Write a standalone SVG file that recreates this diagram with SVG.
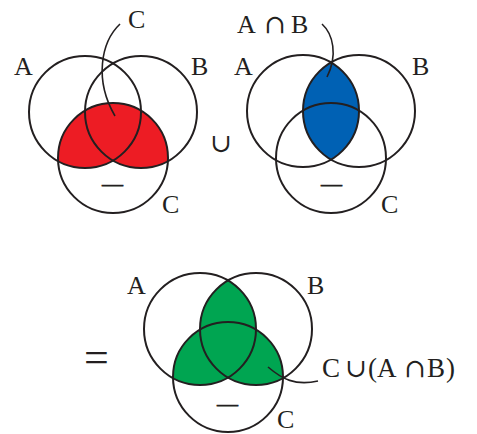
<svg xmlns="http://www.w3.org/2000/svg" width="477" height="434" viewBox="0 0 477 434">
<style>
.c{fill:none;stroke:#231f20;stroke-width:2}
.t{font-family:"Liberation Serif","DejaVu Serif",serif;font-size:26px;fill:#231f20}
.s{font-family:"DejaVu Serif",serif;font-size:26px}
.bar{font-family:"Liberation Serif","DejaVu Serif",serif;font-size:21px;fill:#231f20;stroke:#231f20;stroke-width:0.6}
.lead{fill:none;stroke:#231f20;stroke-width:1.6}
</style>
<defs>
<clipPath id="ab1"><circle cx="85" cy="112" r="56"/><circle cx="141" cy="112" r="56"/></clipPath>
<clipPath id="a2"><circle cx="303" cy="111" r="56"/></clipPath>
<clipPath id="a3"><circle cx="200" cy="329" r="56"/></clipPath>
<clipPath id="ab3"><circle cx="200" cy="329" r="56"/><circle cx="256" cy="329" r="56"/></clipPath>
</defs>
<rect width="477" height="434" fill="#fff"/>

<g id="venn1">
<circle cx="113" cy="158" r="55" fill="#ed1c24" clip-path="url(#ab1)"/>
<circle class="c" cx="85" cy="112" r="56"/>
<circle class="c" cx="141" cy="112" r="56"/>
<circle class="c" cx="113" cy="158" r="55"/>
<text class="t" x="14" y="75">A</text>
<text class="t" x="191" y="75">B</text>
<text class="t" x="162" y="213">C</text>
<text class="t" x="128" y="28">C</text>
<text class="bar" x="102" y="191">—</text>
</g>

<g id="union-sign">
<text class="t" x="210" y="152"><tspan class="s">∪</tspan></text>
</g>

<g id="venn2">
<circle cx="359" cy="111" r="56" fill="#0061b4" clip-path="url(#a2)"/>
<circle class="c" cx="303" cy="111" r="56"/>
<circle class="c" cx="359" cy="111" r="56"/>
<circle class="c" cx="331" cy="158" r="55"/>
<text class="t" x="234" y="75">A</text>
<text class="t" x="412" y="75">B</text>
<text class="t" x="381" y="213">C</text>
<text class="t" x="237 255 264 282 291" y="33">A <tspan class="s">∩</tspan> B</text>
<text class="bar" x="321" y="191">—</text>
</g>

<g id="equals-sign">
<text class="t" x="84" y="372" style="font-size:44px">=</text>
</g>

<g id="venn3">
<circle cx="228" cy="377" r="55" fill="#00a551" clip-path="url(#ab3)"/>
<circle cx="256" cy="329" r="56" fill="#00a551" clip-path="url(#a3)"/>
<circle class="c" cx="200" cy="329" r="56"/>
<circle class="c" cx="256" cy="329" r="56"/>
<circle class="c" cx="228" cy="377" r="55"/>
<text class="t" x="127" y="294">A</text>
<text class="t" x="307" y="294">B</text>
<text class="t" x="277" y="428">C</text>
<text class="t" x="322 340 345 363 368 377 398 404 422 427 446" y="377" style="font-size:27px">C <tspan class="s">∪</tspan> (A <tspan class="s">∩</tspan> B)</text>
<text class="bar" x="217" y="411">—</text>
</g>

<g id="connectors">
<path class="lead" d="M120,24 C101,42 94,80 115,116"/>
<path class="lead" d="M322,24 C333,34 338,55 327,77"/>
<path class="lead" d="M268,367 C282,379 295,386 318,381"/>
</g>
</svg>
